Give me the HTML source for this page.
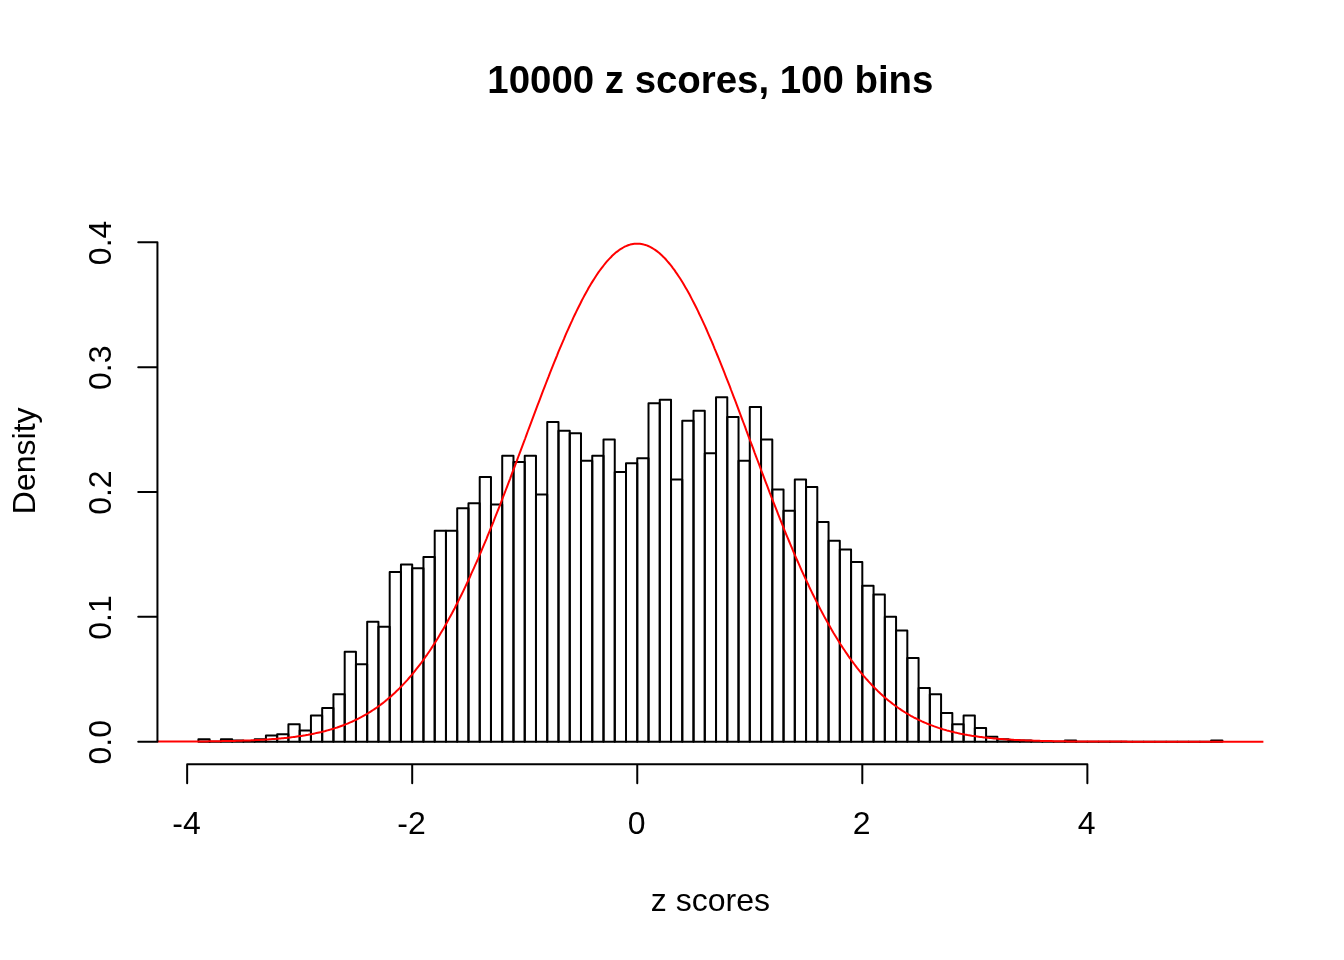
<!DOCTYPE html>
<html><head><meta charset="utf-8"><style>
html,body{margin:0;padding:0;background:#fff;width:1344px;height:960px;overflow:hidden}
svg{display:block;will-change:transform}
</style></head><body>
<svg width="1344" height="960" viewBox="0 0 1344 960">
<rect width="1344" height="960" fill="#fff"/>
<g fill="none" stroke="#000" stroke-width="2" stroke-linejoin="round"><path d="M198.40 741.69V739.19H209.65V741.69Z"/><path d="M209.65 741.69V741.69H220.91V741.69Z"/><path d="M220.91 741.69V739.19H232.16V741.69Z"/><path d="M232.16 741.69V740.44H243.41V741.69Z"/><path d="M243.41 741.69V741.69H254.66V741.69Z"/><path d="M254.66 741.69V739.19H265.92V741.69Z"/><path d="M265.92 741.69V735.45H277.17V741.69Z"/><path d="M277.17 741.69V734.20H288.42V741.69Z"/><path d="M288.42 741.69V724.21H299.67V741.69Z"/><path d="M299.67 741.69V730.45H310.93V741.69Z"/><path d="M310.93 741.69V715.47H322.18V741.69Z"/><path d="M322.18 741.69V707.98H333.43V741.69Z"/><path d="M333.43 741.69V694.25H344.69V741.69Z"/><path d="M344.69 741.69V651.80H355.94V741.69Z"/><path d="M355.94 741.69V664.29H367.19V741.69Z"/><path d="M367.19 741.69V621.84H378.44V741.69Z"/><path d="M378.44 741.69V626.84H389.70V741.69Z"/><path d="M389.70 741.69V571.91H400.95V741.69Z"/><path d="M400.95 741.69V564.42H412.20V741.69Z"/><path d="M412.20 741.69V568.16H423.45V741.69Z"/><path d="M423.45 741.69V556.93H434.71V741.69Z"/><path d="M434.71 741.69V530.71H445.96V741.69Z"/><path d="M445.96 741.69V530.71H457.21V741.69Z"/><path d="M457.21 741.69V508.24H468.47V741.69Z"/><path d="M468.47 741.69V503.25H479.72V741.69Z"/><path d="M479.72 741.69V477.03H490.97V741.69Z"/><path d="M490.97 741.69V504.49H502.22V741.69Z"/><path d="M502.22 741.69V455.81H513.48V741.69Z"/><path d="M513.48 741.69V462.05H524.73V741.69Z"/><path d="M524.73 741.69V455.81H535.98V741.69Z"/><path d="M535.98 741.69V494.51H547.24V741.69Z"/><path d="M547.24 741.69V422.10H558.49V741.69Z"/><path d="M558.49 741.69V430.84H569.74V741.69Z"/><path d="M569.74 741.69V433.34H580.99V741.69Z"/><path d="M580.99 741.69V460.80H592.25V741.69Z"/><path d="M592.25 741.69V455.81H603.50V741.69Z"/><path d="M603.50 741.69V439.58H614.75V741.69Z"/><path d="M614.75 741.69V472.04H626.00V741.69Z"/><path d="M626.00 741.69V463.30H637.26V741.69Z"/><path d="M637.26 741.69V458.30H648.51V741.69Z"/><path d="M648.51 741.69V403.37H659.76V741.69Z"/><path d="M659.76 741.69V399.63H671.02V741.69Z"/><path d="M671.02 741.69V479.53H682.27V741.69Z"/><path d="M682.27 741.69V420.85H693.52V741.69Z"/><path d="M693.52 741.69V410.86H704.77V741.69Z"/><path d="M704.77 741.69V453.31H716.03V741.69Z"/><path d="M716.03 741.69V397.13H727.28V741.69Z"/><path d="M727.28 741.69V417.11H738.53V741.69Z"/><path d="M738.53 741.69V460.80H749.78V741.69Z"/><path d="M749.78 741.69V407.12H761.04V741.69Z"/><path d="M761.04 741.69V439.58H772.29V741.69Z"/><path d="M772.29 741.69V489.51H783.54V741.69Z"/><path d="M783.54 741.69V510.74H794.80V741.69Z"/><path d="M794.80 741.69V479.53H806.05V741.69Z"/><path d="M806.05 741.69V487.02H817.30V741.69Z"/><path d="M817.30 741.69V521.97H828.55V741.69Z"/><path d="M828.55 741.69V540.70H839.81V741.69Z"/><path d="M839.81 741.69V549.44H851.06V741.69Z"/><path d="M851.06 741.69V561.92H862.31V741.69Z"/><path d="M862.31 741.69V585.64H873.56V741.69Z"/><path d="M873.56 741.69V594.38H884.82V741.69Z"/><path d="M884.82 741.69V616.85H896.07V741.69Z"/><path d="M896.07 741.69V630.58H907.32V741.69Z"/><path d="M907.32 741.69V658.05H918.58V741.69Z"/><path d="M918.58 741.69V688.01H929.83V741.69Z"/><path d="M929.83 741.69V694.25H941.08V741.69Z"/><path d="M941.08 741.69V712.98H952.33V741.69Z"/><path d="M952.33 741.69V724.21H963.59V741.69Z"/><path d="M963.59 741.69V715.47H974.84V741.69Z"/><path d="M974.84 741.69V727.96H986.09V741.69Z"/><path d="M986.09 741.69V736.70H997.35V741.69Z"/><path d="M997.35 741.69V739.19H1008.60V741.69Z"/><path d="M1008.60 741.69V740.44H1019.85V741.69Z"/><path d="M1019.85 741.69V740.44H1031.10V741.69Z"/><path d="M1031.10 741.69V741.69H1042.36V741.69Z"/><path d="M1042.36 741.69V741.69H1053.61V741.69Z"/><path d="M1053.61 741.69V741.69H1064.86V741.69Z"/><path d="M1064.86 741.69V740.44H1076.11V741.69Z"/><path d="M1076.11 741.69V741.69H1087.37V741.69Z"/><path d="M1087.37 741.69V741.69H1098.62V741.69Z"/><path d="M1098.62 741.69V741.69H1109.87V741.69Z"/><path d="M1109.87 741.69V741.69H1121.13V741.69Z"/><path d="M1121.13 741.69V741.69H1132.38V741.69Z"/><path d="M1132.38 741.69V741.69H1143.63V741.69Z"/><path d="M1143.63 741.69V741.69H1154.88V741.69Z"/><path d="M1154.88 741.69V741.69H1166.14V741.69Z"/><path d="M1166.14 741.69V741.69H1177.39V741.69Z"/><path d="M1177.39 741.69V741.69H1188.64V741.69Z"/><path d="M1188.64 741.69V741.69H1199.89V741.69Z"/><path d="M1199.89 741.69V741.69H1211.15V741.69Z"/><path d="M1211.15 741.69V740.44H1222.40V741.69Z"/></g>
<polyline points="157.4,741.6 158.8,741.6 160.2,741.6 161.6,741.6 163.0,741.6 164.4,741.6 165.7,741.6 167.1,741.6 168.5,741.6 169.9,741.6 171.3,741.6 172.6,741.6 174.0,741.6 175.4,741.6 176.8,741.6 178.2,741.6 179.6,741.6 180.9,741.6 182.3,741.5 183.7,741.5 185.1,741.5 186.5,741.5 187.9,741.5 189.2,741.5 190.6,741.5 192.0,741.5 193.4,741.5 194.8,741.5 196.1,741.5 197.5,741.4 198.9,741.4 200.3,741.4 201.7,741.4 203.1,741.4 204.4,741.4 205.8,741.4 207.2,741.4 208.6,741.3 210.0,741.3 211.4,741.3 212.7,741.3 214.1,741.3 215.5,741.2 216.9,741.2 218.3,741.2 219.6,741.2 221.0,741.2 222.4,741.1 223.8,741.1 225.2,741.1 226.6,741.1 227.9,741.0 229.3,741.0 230.7,741.0 232.1,740.9 233.5,740.9 234.9,740.9 236.2,740.8 237.6,740.8 239.0,740.7 240.4,740.7 241.8,740.7 243.1,740.6 244.5,740.6 245.9,740.5 247.3,740.5 248.7,740.4 250.1,740.4 251.4,740.3 252.8,740.2 254.2,740.2 255.6,740.1 257.0,740.0 258.4,740.0 259.7,739.9 261.1,739.8 262.5,739.7 263.9,739.7 265.3,739.6 266.6,739.5 268.0,739.4 269.4,739.3 270.8,739.2 272.2,739.1 273.6,739.0 274.9,738.9 276.3,738.8 277.7,738.7 279.1,738.5 280.5,738.4 281.9,738.3 283.2,738.2 284.6,738.0 286.0,737.9 287.4,737.7 288.8,737.6 290.2,737.4 291.5,737.2 292.9,737.1 294.3,736.9 295.7,736.7 297.1,736.5 298.4,736.3 299.8,736.1 301.2,735.9 302.6,735.7 304.0,735.5 305.4,735.3 306.7,735.0 308.1,734.8 309.5,734.5 310.9,734.3 312.3,734.0 313.7,733.7 315.0,733.4 316.4,733.1 317.8,732.8 319.2,732.5 320.6,732.2 321.9,731.9 323.3,731.5 324.7,731.2 326.1,730.8 327.5,730.4 328.9,730.0 330.2,729.6 331.6,729.2 333.0,728.8 334.4,728.4 335.8,727.9 337.2,727.5 338.5,727.0 339.9,726.5 341.3,726.0 342.7,725.5 344.1,725.0 345.4,724.4 346.8,723.9 348.2,723.3 349.6,722.7 351.0,722.1 352.4,721.5 353.7,720.9 355.1,720.2 356.5,719.5 357.9,718.8 359.3,718.1 360.7,717.4 362.0,716.7 363.4,715.9 364.8,715.1 366.2,714.3 367.6,713.5 368.9,712.7 370.3,711.8 371.7,710.9 373.1,710.0 374.5,709.1 375.9,708.2 377.2,707.2 378.6,706.2 380.0,705.2 381.4,704.1 382.8,703.1 384.2,702.0 385.5,700.9 386.9,699.8 388.3,698.6 389.7,697.4 391.1,696.2 392.4,695.0 393.8,693.7 395.2,692.4 396.6,691.1 398.0,689.8 399.4,688.4 400.7,687.0 402.1,685.6 403.5,684.1 404.9,682.6 406.3,681.1 407.7,679.6 409.0,678.0 410.4,676.4 411.8,674.8 413.2,673.1 414.6,671.4 415.9,669.7 417.3,667.9 418.7,666.1 420.1,664.3 421.5,662.5 422.9,660.6 424.2,658.7 425.6,656.7 427.0,654.8 428.4,652.7 429.8,650.7 431.2,648.6 432.5,646.5 433.9,644.4 435.3,642.2 436.7,640.0 438.1,637.7 439.4,635.5 440.8,633.1 442.2,630.8 443.6,628.4 445.0,626.0 446.4,623.6 447.7,621.1 449.1,618.6 450.5,616.0 451.9,613.5 453.3,610.8 454.7,608.2 456.0,605.5 457.4,602.8 458.8,600.1 460.2,597.3 461.6,594.5 463.0,591.6 464.3,588.8 465.7,585.9 467.1,582.9 468.5,580.0 469.9,577.0 471.2,573.9 472.6,570.9 474.0,567.8 475.4,564.7 476.8,561.6 478.2,558.4 479.5,555.2 480.9,552.0 482.3,548.7 483.7,545.4 485.1,542.1 486.5,538.8 487.8,535.4 489.2,532.1 490.6,528.7 492.0,525.3 493.4,521.8 494.7,518.3 496.1,514.9 497.5,511.4 498.9,507.8 500.3,504.3 501.7,500.7 503.0,497.2 504.4,493.6 505.8,490.0 507.2,486.3 508.6,482.7 510.0,479.1 511.3,475.4 512.7,471.7 514.1,468.1 515.5,464.4 516.9,460.7 518.2,457.0 519.6,453.3 521.0,449.6 522.4,445.9 523.8,442.2 525.2,438.5 526.5,434.8 527.9,431.0 529.3,427.3 530.7,423.6 532.1,419.9 533.5,416.2 534.8,412.6 536.2,408.9 537.6,405.2 539.0,401.6 540.4,397.9 541.7,394.3 543.1,390.7 544.5,387.1 545.9,383.5 547.3,379.9 548.7,376.4 550.0,372.9 551.4,369.4 552.8,365.9 554.2,362.4 555.6,359.0 557.0,355.6 558.3,352.2 559.7,348.9 561.1,345.6 562.5,342.3 563.9,339.1 565.2,335.9 566.6,332.7 568.0,329.6 569.4,326.5 570.8,323.4 572.2,320.4 573.5,317.4 574.9,314.5 576.3,311.6 577.7,308.8 579.1,306.0 580.5,303.2 581.8,300.5 583.2,297.9 584.6,295.3 586.0,292.8 587.4,290.3 588.7,287.8 590.1,285.5 591.5,283.1 592.9,280.9 594.3,278.7 595.7,276.5 597.0,274.5 598.4,272.4 599.8,270.5 601.2,268.6 602.6,266.8 604.0,265.0 605.3,263.3 606.7,261.7 608.1,260.1 609.5,258.6 610.9,257.2 612.2,255.8 613.6,254.5 615.0,253.3 616.4,252.1 617.8,251.1 619.2,250.0 620.5,249.1 621.9,248.3 623.3,247.5 624.7,246.7 626.1,246.1 627.5,245.5 628.8,245.0 630.2,244.6 631.6,244.3 633.0,244.0 634.4,243.8 635.8,243.7 637.1,243.7 638.5,243.7 639.9,243.8 641.3,244.0 642.7,244.2 644.0,244.6 645.4,245.0 646.8,245.4 648.2,246.0 649.6,246.6 651.0,247.3 652.3,248.1 653.7,249.0 655.1,249.9 656.5,250.9 657.9,251.9 659.3,253.1 660.6,254.3 662.0,255.6 663.4,256.9 664.8,258.3 666.2,259.8 667.5,261.4 668.9,263.0 670.3,264.7 671.7,266.4 673.1,268.3 674.5,270.1 675.8,272.1 677.2,274.1 678.6,276.2 680.0,278.3 681.4,280.5 682.8,282.7 684.1,285.0 685.5,287.4 686.9,289.8 688.3,292.3 689.7,294.8 691.0,297.4 692.4,300.1 693.8,302.7 695.2,305.5 696.6,308.3 698.0,311.1 699.3,314.0 700.7,316.9 702.1,319.9 703.5,322.9 704.9,325.9 706.3,329.0 707.6,332.1 709.0,335.3 710.4,338.5 711.8,341.7 713.2,345.0 714.5,348.3 715.9,351.6 717.3,355.0 718.7,358.4 720.1,361.8 721.5,365.3 722.8,368.7 724.2,372.2 725.6,375.8 727.0,379.3 728.4,382.9 729.8,386.4 731.1,390.0 732.5,393.6 733.9,397.3 735.3,400.9 736.7,404.6 738.0,408.2 739.4,411.9 740.8,415.6 742.2,419.3 743.6,423.0 745.0,426.7 746.3,430.4 747.7,434.1 749.1,437.8 750.5,441.5 751.9,445.2 753.3,448.9 754.6,452.6 756.0,456.3 757.4,460.0 758.8,463.7 760.2,467.4 761.5,471.1 762.9,474.7 764.3,478.4 765.7,482.1 767.1,485.7 768.5,489.3 769.8,492.9 771.2,496.5 772.6,500.1 774.0,503.7 775.4,507.2 776.8,510.7 778.1,514.2 779.5,517.7 780.9,521.2 782.3,524.6 783.7,528.1 785.0,531.5 786.4,534.8 787.8,538.2 789.2,541.5 790.6,544.8 792.0,548.1 793.3,551.4 794.7,554.6 796.1,557.8 797.5,561.0 798.9,564.1 800.3,567.3 801.6,570.3 803.0,573.4 804.4,576.4 805.8,579.4 807.2,582.4 808.6,585.3 809.9,588.3 811.3,591.1 812.7,594.0 814.1,596.8 815.5,599.6 816.8,602.3 818.2,605.0 819.6,607.7 821.0,610.4 822.4,613.0 823.8,615.6 825.1,618.1 826.5,620.6 827.9,623.1 829.3,625.6 830.7,628.0 832.1,630.4 833.4,632.7 834.8,635.0 836.2,637.3 837.6,639.6 839.0,641.8 840.3,644.0 841.7,646.1 843.1,648.2 844.5,650.3 845.9,652.4 847.3,654.4 848.6,656.4 850.0,658.3 851.4,660.3 852.8,662.1 854.2,664.0 855.6,665.8 856.9,667.6 858.3,669.4 859.7,671.1 861.1,672.8 862.5,674.5 863.8,676.1 865.2,677.7 866.6,679.3 868.0,680.8 869.4,682.4 870.8,683.8 872.1,685.3 873.5,686.7 874.9,688.1 876.3,689.5 877.7,690.9 879.1,692.2 880.4,693.5 881.8,694.7 883.2,696.0 884.6,697.2 886.0,698.4 887.3,699.6 888.7,700.7 890.1,701.8 891.5,702.9 892.9,704.0 894.3,705.0 895.6,706.0 897.0,707.0 898.4,708.0 899.8,708.9 901.2,709.9 902.6,710.8 903.9,711.7 905.3,712.5 906.7,713.4 908.1,714.2 909.5,715.0 910.8,715.8 912.2,716.5 913.6,717.3 915.0,718.0 916.4,718.7 917.8,719.4 919.1,720.1 920.5,720.7 921.9,721.4 923.3,722.0 924.7,722.6 926.1,723.2 927.4,723.8 928.8,724.3 930.2,724.9 931.6,725.4 933.0,725.9 934.3,726.4 935.7,726.9 937.1,727.4 938.5,727.9 939.9,728.3 941.3,728.7 942.6,729.2 944.0,729.6 945.4,730.0 946.8,730.4 948.2,730.7 949.6,731.1 950.9,731.5 952.3,731.8 953.7,732.1 955.1,732.5 956.5,732.8 957.8,733.1 959.2,733.4 960.6,733.7 962.0,733.9 963.4,734.2 964.8,734.5 966.1,734.7 967.5,735.0 968.9,735.2 970.3,735.4 971.7,735.7 973.1,735.9 974.4,736.1 975.8,736.3 977.2,736.5 978.6,736.7 980.0,736.9 981.4,737.0 982.7,737.2 984.1,737.4 985.5,737.5 986.9,737.7 988.3,737.8 989.6,738.0 991.0,738.1 992.4,738.3 993.8,738.4 995.2,738.5 996.6,738.6 997.9,738.8 999.3,738.9 1000.7,739.0 1002.1,739.1 1003.5,739.2 1004.9,739.3 1006.2,739.4 1007.6,739.5 1009.0,739.6 1010.4,739.6 1011.8,739.7 1013.1,739.8 1014.5,739.9 1015.9,740.0 1017.3,740.0 1018.7,740.1 1020.1,740.2 1021.4,740.2 1022.8,740.3 1024.2,740.3 1025.6,740.4 1027.0,740.5 1028.4,740.5 1029.7,740.6 1031.1,740.6 1032.5,740.6 1033.9,740.7 1035.3,740.7 1036.6,740.8 1038.0,740.8 1039.4,740.8 1040.8,740.9 1042.2,740.9 1043.6,741.0 1044.9,741.0 1046.3,741.0 1047.7,741.0 1049.1,741.1 1050.5,741.1 1051.9,741.1 1053.2,741.2 1054.6,741.2 1056.0,741.2 1057.4,741.2 1058.8,741.2 1060.1,741.3 1061.5,741.3 1062.9,741.3 1064.3,741.3 1065.7,741.3 1067.1,741.4 1068.4,741.4 1069.8,741.4 1071.2,741.4 1072.6,741.4 1074.0,741.4 1075.4,741.4 1076.7,741.4 1078.1,741.5 1079.5,741.5 1080.9,741.5 1082.3,741.5 1083.6,741.5 1085.0,741.5 1086.4,741.5 1087.8,741.5 1089.2,741.5 1090.6,741.5 1091.9,741.5 1093.3,741.6 1094.7,741.6 1096.1,741.6 1097.5,741.6 1098.9,741.6 1100.2,741.6 1101.6,741.6 1103.0,741.6 1104.4,741.6 1105.8,741.6 1107.1,741.6 1108.5,741.6 1109.9,741.6 1111.3,741.6 1112.7,741.6 1114.1,741.6 1115.4,741.6 1116.8,741.6 1118.2,741.6 1119.6,741.6 1121.0,741.6 1122.4,741.6 1123.7,741.6 1125.1,741.6 1126.5,741.6 1127.9,741.7 1129.3,741.7 1130.6,741.7 1132.0,741.7 1133.4,741.7 1134.8,741.7 1136.2,741.7 1137.6,741.7 1138.9,741.7 1140.3,741.7 1141.7,741.7 1143.1,741.7 1144.5,741.7 1145.9,741.7 1147.2,741.7 1148.6,741.7 1150.0,741.7 1151.4,741.7 1152.8,741.7 1154.2,741.7 1155.5,741.7 1156.9,741.7 1158.3,741.7 1159.7,741.7 1161.1,741.7 1162.4,741.7 1163.8,741.7 1165.2,741.7 1166.6,741.7 1168.0,741.7 1169.4,741.7 1170.7,741.7 1172.1,741.7 1173.5,741.7 1174.9,741.7 1176.3,741.7 1177.7,741.7 1179.0,741.7 1180.4,741.7 1181.8,741.7 1183.2,741.7 1184.6,741.7 1185.9,741.7 1187.3,741.7 1188.7,741.7 1190.1,741.7 1191.5,741.7 1192.9,741.7 1194.2,741.7 1195.6,741.7 1197.0,741.7 1198.4,741.7 1199.8,741.7 1201.2,741.7 1202.5,741.7 1203.9,741.7 1205.3,741.7 1206.7,741.7 1208.1,741.7 1209.4,741.7 1210.8,741.7 1212.2,741.7 1213.6,741.7 1215.0,741.7 1216.4,741.7 1217.7,741.7 1219.1,741.7 1220.5,741.7 1221.9,741.7 1223.3,741.7 1224.7,741.7 1226.0,741.7 1227.4,741.7 1228.8,741.7 1230.2,741.7 1231.6,741.7 1232.9,741.7 1234.3,741.7 1235.7,741.7 1237.1,741.7 1238.5,741.7 1239.9,741.7 1241.2,741.7 1242.6,741.7 1244.0,741.7 1245.4,741.7 1246.8,741.7 1248.2,741.7 1249.5,741.7 1250.9,741.7 1252.3,741.7 1253.7,741.7 1255.1,741.7 1256.4,741.7 1257.8,741.7 1259.2,741.7 1260.6,741.7 1262.0,741.7 1263.4,741.7" fill="none" stroke="#f00" stroke-width="2" stroke-linejoin="round"/>
<path d="M187.15 764.16H1087.37M187.15 764.16V783.36M412.20 764.16V783.36M637.26 764.16V783.36M862.31 764.16V783.36M1087.37 764.16V783.36M157.44 741.69V242.33M157.44 741.69H138.24M157.44 616.85H138.24M157.44 492.01H138.24M157.44 367.17H138.24M157.44 242.33H138.24" fill="none" stroke="#000" stroke-width="2" stroke-linecap="round"/>
<text x="710.40" y="93.1" font-family="Liberation Sans, sans-serif" font-size="38.4" font-weight="bold" text-anchor="middle">10000 z scores, 100 bins</text>
<text x="186.55" y="834.2" font-family="Liberation Sans, sans-serif" font-size="32" text-anchor="middle">-4</text>
<text x="411.60" y="834.2" font-family="Liberation Sans, sans-serif" font-size="32" text-anchor="middle">-2</text>
<text x="636.66" y="834.2" font-family="Liberation Sans, sans-serif" font-size="32" text-anchor="middle">0</text>
<text x="861.71" y="834.2" font-family="Liberation Sans, sans-serif" font-size="32" text-anchor="middle">2</text>
<text x="1086.77" y="834.2" font-family="Liberation Sans, sans-serif" font-size="32" text-anchor="middle">4</text>
<text x="710.40" y="910.8" font-family="Liberation Sans, sans-serif" font-size="32" text-anchor="middle">z scores</text>
<text transform="translate(111.2 742.29) rotate(-90)" font-family="Liberation Sans, sans-serif" font-size="32" text-anchor="middle">0.0</text>
<text transform="translate(111.2 617.45) rotate(-90)" font-family="Liberation Sans, sans-serif" font-size="32" text-anchor="middle">0.1</text>
<text transform="translate(111.2 492.61) rotate(-90)" font-family="Liberation Sans, sans-serif" font-size="32" text-anchor="middle">0.2</text>
<text transform="translate(111.2 367.77) rotate(-90)" font-family="Liberation Sans, sans-serif" font-size="32" text-anchor="middle">0.3</text>
<text transform="translate(111.2 242.93) rotate(-90)" font-family="Liberation Sans, sans-serif" font-size="32" text-anchor="middle">0.4</text>
<text transform="translate(35.2 460.80) rotate(-90)" font-family="Liberation Sans, sans-serif" font-size="32" text-anchor="middle">Density</text>
</svg>
</body></html>
